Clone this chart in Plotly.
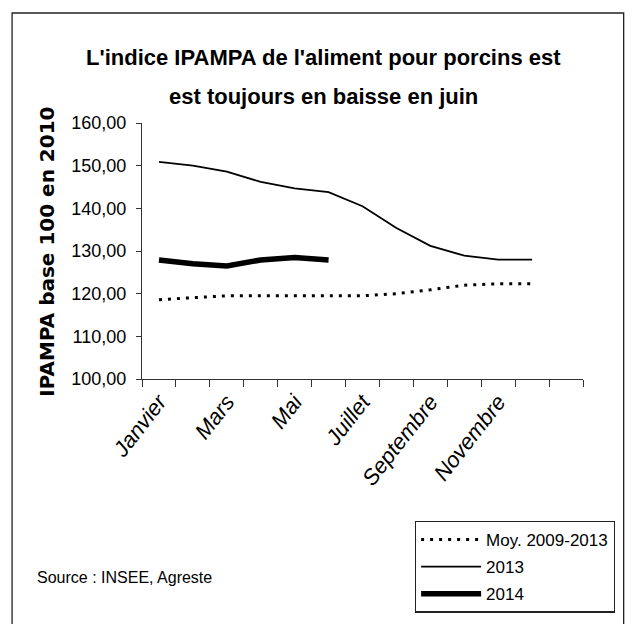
import plotly.graph_objects as go

# ---- data ----
months = ["Janvier", "Février", "Mars", "Avril", "Mai", "Juin", "Juillet",
          "Août", "Septembre", "Octobre", "Novembre", "Décembre"]
moy_2009_2013 = [118.6, 119.1, 119.5, 119.5, 119.5, 119.5, 119.5, 120.0, 120.9, 122.0, 122.3, 122.3]
y2013 = [150.9, 150.0, 148.6, 146.2, 144.7, 143.8, 140.5, 135.4, 131.2, 128.9, 128.0, 128.0]
y2014 = [127.9, 127.0, 126.5, 127.9, 128.5, 127.9]
shown_labels = ["Janvier", "Mars", "Mai", "Juillet", "Septembre", "Novembre"]
y_ticks = [100, 110, 120, 130, 140, 150, 160]

OFF = 8  # page body margin
W, H = 634 - 2 * OFF, 624 - OFF
# plot area in reference-pixel coordinates
L0, R0, T0, B0 = 142, 583.3, 123.3, 379.3
L, R, T, B = L0 - OFF, R0 - OFF, T0 - OFF, B0 - OFF


def px(x):
    return (x - L0) / (R0 - L0)


def py(y):
    return (B0 - y) / (B0 - T0)


xpos = list(range(1, len(months) + 1))
xlab_pos = [months.index(m) + 1 for m in shown_labels]

ARIAL = "Liberation Sans, Arial, sans-serif"

fig = go.Figure()
fig.add_trace(go.Scatter(x=xpos, y=moy_2009_2013, mode="lines", name="Moy. 2009-2013",
                         legendgroup="a",
                         line=dict(color="black", width=3, dash="3px,6px")))
fig.add_trace(go.Scatter(x=xpos, y=y2013, mode="lines", name="2013", legendgroup="b",
                         line=dict(color="black", width=1.8)))
fig.add_trace(go.Scatter(x=xpos[:len(y2014)], y=y2014, mode="lines", name="2014",
                         legendgroup="c", line=dict(color="black", width=5.5)))

fig.update_layout(
    width=W, height=H,
    margin=dict(l=L, r=W - R, t=T, b=H - B, autoexpand=False),
    paper_bgcolor="white", plot_bgcolor="white",
    separators=", ",
    showlegend=True,
    legend=dict(x=px(415), y=py(521), xanchor="left", yanchor="top",
                bordercolor="#222", borderwidth=1.3, bgcolor="white",
                font=dict(family=ARIAL, size=17, color="black"),
                itemwidth=60, tracegroupgap=2, traceorder="grouped"),
    xaxis=dict(range=[0.5, 13.5], showgrid=False, zeroline=False,
               showline=True, linecolor="#333", linewidth=1.3,
               tickvals=xlab_pos, ticktext=shown_labels, ticks="", tickangle=-52,
               tickfont=dict(family=ARIAL, size=22, color="black", style="italic"),
               minor=dict(tick0=0.5, dtick=1, ticks="outside", ticklen=7,
                          tickcolor="#333", tickwidth=1.3, showgrid=False)),
    yaxis=dict(range=[100, 160], tickvals=y_ticks, tickformat=".2f",
               showgrid=False, zeroline=False, showline=True, linecolor="#333",
               linewidth=1.3, ticks="outside", ticklen=5, tickcolor="#333",
               tickwidth=1.3, ticklabelstandoff=6,
               tickfont=dict(family=ARIAL, size=18, color="black")),
)

# outer border
fig.add_shape(type="rect", xref="paper", yref="paper",
              x0=px(12), x1=px(624), y0=py(640), y1=py(13.3),
              line=dict(color="#222", width=1.3), fillcolor="rgba(0,0,0,0)", layer="below")

# title (two lines)
fig.add_annotation(text="<b>L'indice IPAMPA de l'aliment pour porcins est</b>",
                   xref="paper", yref="paper", x=px(324), y=py(58),
                   xanchor="center", yanchor="middle", showarrow=False,
                   font=dict(family=ARIAL, size=22, color="black"))
fig.add_annotation(text="<b>est toujours en baisse en juin</b>",
                   xref="paper", yref="paper", x=px(324), y=py(97),
                   xanchor="center", yanchor="middle", showarrow=False,
                   font=dict(family=ARIAL, size=22, color="black"))
# y axis title
fig.add_annotation(text="<b>IPAMPA base 100 en 2010</b>", textangle=-90,
                   xref="paper", yref="paper", x=px(47), y=py(252),
                   xanchor="center", yanchor="middle", showarrow=False,
                   font=dict(family="DejaVu Sans, sans-serif", size=20, color="black"))
# source
fig.add_annotation(text="Source : INSEE, Agreste",
                   xref="paper", yref="paper", x=px(35), y=py(578),
                   xanchor="left", yanchor="middle", showarrow=False,
                   font=dict(family=ARIAL, size=16, color="black"))

fig.write_html("out.html")
